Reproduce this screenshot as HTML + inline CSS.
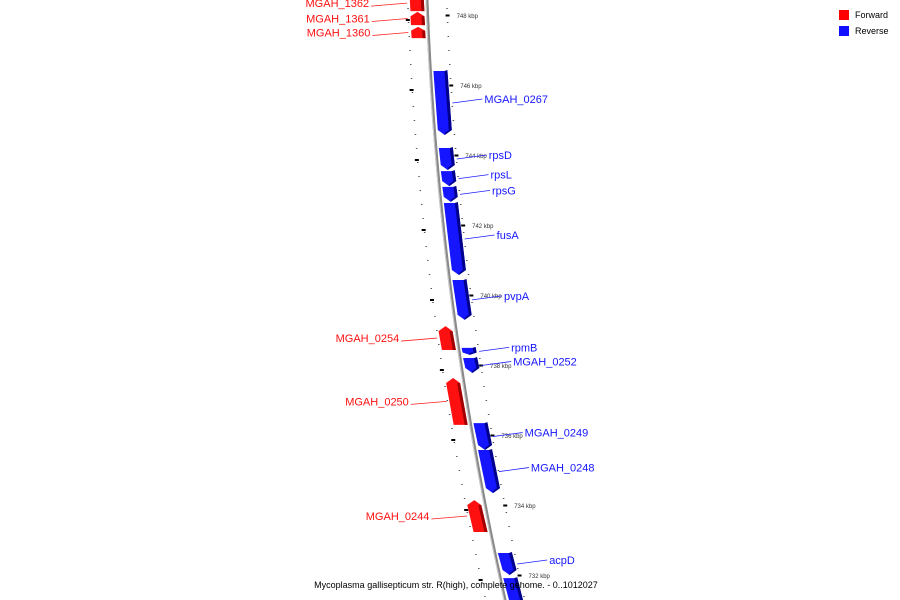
<!DOCTYPE html>
<html><head><meta charset="utf-8"><style>
body{margin:0;background:#fff}svg{display:block;font-family:"Liberation Sans",sans-serif}
</style></head><body>
<svg id="c" width="900" height="600"></svg>
<script>
const geneNames=["MGAH_0267","rpsD","rpsL","rpsG","fusA","pvpA","rpmB","MGAH_0252","MGAH_0249","MGAH_0248","acpD","","MGAH_1362","MGAH_1361","MGAH_1360","MGAH_0254","MGAH_0250","MGAH_0244"];
const geneStart=[746.40,744.20,743.54,743.09,742.63,740.43,738.49,738.20,736.34,735.57,732.63,731.91,748.57,748.09,747.66,739.11,737.63,734.14];
const geneEnd=[744.57,743.57,743.11,742.66,740.57,739.29,738.29,737.77,735.57,734.34,732.00,731.00,748.11,747.71,747.34,738.43,736.29,733.23];
const geneStrand=["-","-","-","-","-","-","-","-","-","-","-","-","+","+","+","+","+","+"];
const tickKbp=[748,746,744,742,740,738,736,734,732];
const NS="http://www.w3.org/2000/svg",svg=document.getElementById('c');
const Y=k=>15+(748-k)*35;
const L=y=>427+0.0367*y+1.556e-4*y*y;
function mk(t,a,p){const e=document.createElementNS(NS,t);for(const k in a)e.setAttribute(k,a[k]);(p||svg).appendChild(e);return e;}
// backbone
let d="";for(let y=-5;y<=605;y+=5)d+=(y<0?"M":"L")+L(y)+" "+y;
const bb=mk('path',{d:d,stroke:'#888',fill:'none','stroke-width':3});

mk('path',{d:d,stroke:'#ccc',fill:'none','stroke-width':1,transform:'translate(-1,0)'});
// minor dots
for(let k=749;k>=730.8;k-=0.4){const y=Y(k);if(y<0||y>600)continue;
 const r=mk('rect',{x:L(y)+19,y:y,width:1.5,height:1,fill:'#555'});
 const l=mk('rect',{x:L(y)-20,y:y,width:1.5,height:1,fill:'#555'});}
tickKbp.forEach(k=>{const y=Y(k);
 const t=mk('rect',{x:L(y)+18,y:y-0.5,width:4,height:2,fill:'#000'});
 const t2=mk('rect',{x:L(y+5)-22,y:y+4,width:4,height:2,fill:'#000'});
 const tx=mk('text',{x:L(y)+29,y:y+3,'font-size':6,fill:'#333'});tx.textContent=k+" kbp";});
// genes
geneNames.forEach((n,i)=>{const y1=Y(geneStart[i]),y2=Y(geneEnd[i]),rev=geneStrand[i]=="-";
 const g=mk('g',{});
 const w=14,a=Math.min(5,(y2-y1)/3);
 const c=rev?'#1515ff':'#ff1010',dk=rev?'#00008c':'#a00000';
 let p;
 if(rev){const x1=L(y1)+3,x2=L(y2)+3;
  p=[[x1,y1],[x1+w,y1],[x2+w,y2-a],[x2+w/2,y2],[x2,y2-a]];
  mk('polygon',{points:p.map(q=>q.join(',')).join(' '),fill:c},g);
  mk('polygon',{points:[[x1+w-3,y1],[x1+w,y1-1],[x2+w,y2-a],[x2+w/2,y2],[x2+w/2,y2-2],[x2+w-3,y2-a]].map(q=>q.join(',')).join(' '),fill:dk},g);
 }else{const x1=L(y1)-3-w,x2=L(y2)-3-w;
  p=[[x1+w/2,y1],[x1+w,y1+a],[x2+w,y2],[x2,y2],[x1,y1+a]];
  mk('polygon',{points:p.map(q=>q.join(',')).join(' '),fill:c},g);
  mk('polygon',{points:[[x1+w-3,y1+a],[x1+w,y1+a],[x2+w,y2],[x2+w-3,y2]].map(q=>q.join(',')).join(' '),fill:dk},g);}
 if(!n)return;
 const ym=(y1+y2)/2,lx=L(ym);
 if(rev){mk('line',{x1:lx+20,y1:ym,x2:lx+50,y2:ym-4,stroke:'#2020ff','stroke-width':0.8},g);
  const t=mk('text',{x:lx+52,y:ym,'font-size':11,fill:'#1515ff'},g);t.textContent=n;}
 else{mk('line',{x1:lx-20,y1:ym,x2:lx-56,y2:ym+3,stroke:'#ff2020','stroke-width':0.8},g);
  const t=mk('text',{x:lx-58,y:ym+4,'font-size':11,fill:'#ff1010','text-anchor':'end'},g);t.textContent=n;}
});
// legend
[["Forward","#ff0000",10],["Reverse","#1010ff",26]].forEach(([n,c,y])=>{const g=mk('g',{});
 mk('rect',{x:839,y:y,width:10,height:10,fill:c},g);const t=mk('text',{x:855,y:y+8,'font-size':9,fill:'#000'},g);t.textContent=n;});
const tt=mk('text',{x:456,y:588,'font-size':9,'text-anchor':'middle',fill:'#000'});tt.textContent="Mycoplasma gallisepticum str. R(high), complete genome. - 0..1012027";

</script></body></html>
